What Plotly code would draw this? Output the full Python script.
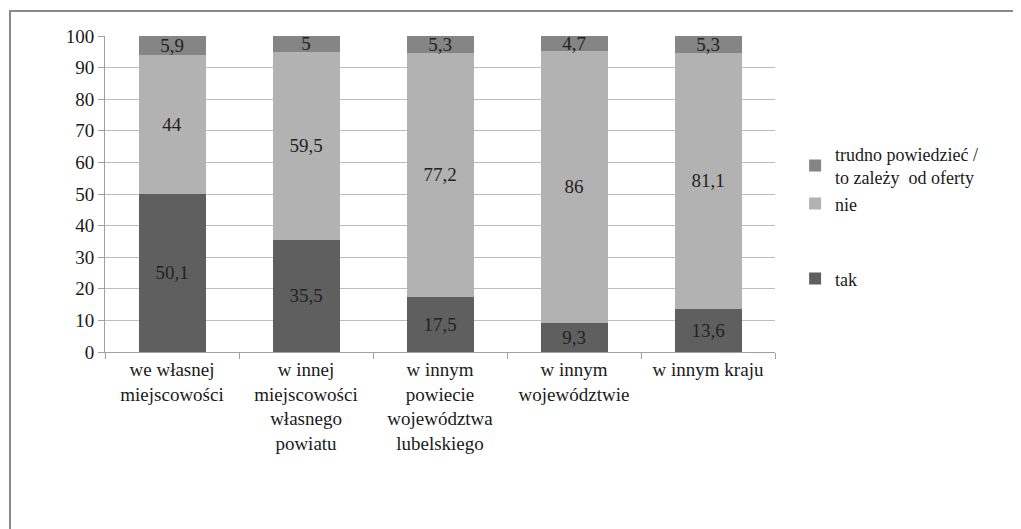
import plotly.graph_objects as go

categories = [
    'we własnej<br>miejscowości',
    'w innej<br>miejscowości<br>własnego<br>powiatu',
    'w innym<br>powiecie<br>województwa<br>lubelskiego',
    'w innym<br>województwie',
    'w innym kraju',
]
tak = [50.1, 35.5, 17.5, 9.3, 13.6]
nie = [44, 59.5, 77.2, 86, 81.1]
trudno = [5.9, 5, 5.3, 4.7, 5.3]

series = [
    ('tak', tak, '#5f5f5f', 'legend2'),
    ('nie', nie, '#b2b2b2', 'legend'),
    ('trudno powiedzieć /<br>to zależy  od oferty', trudno, '#858585', 'legend'),
]

FONT = 'Times New Roman, Liberation Serif, serif'

fig = go.Figure()
for name, values, color, leg in series:
    fig.add_trace(go.Bar(
        x=categories,
        y=values,
        name=name,
        legend=leg,
        marker=dict(color=color, line=dict(width=0)),
        texttemplate='%{y}',
        textposition='inside',
        insidetextanchor='middle',
        textangle=0,
        textfont=dict(family=FONT, size=19, color='#222222'),
        cliponaxis=False,
    ))

legend_style = dict(
    xanchor='left', yanchor='top', traceorder='reversed',
    font=dict(family=FONT, size=18, color='#1a1a1a'),
    itemwidth=30, bgcolor='rgba(0,0,0,0)',
)

fig.update_layout(
    barmode='stack',
    bargap=0.5,
    width=1021,
    height=529,
    margin=dict(l=97, r=254, t=28, b=185),
    paper_bgcolor='white',
    plot_bgcolor='white',
    separators=', ',
    uniformtext=dict(minsize=19, mode='show'),
    font=dict(family=FONT, size=19, color='#1a1a1a'),
    legend=dict(x=1.03, y=0.685, tracegroupgap=0, **legend_style),
    legend2=dict(x=1.03, y=0.29, **legend_style),
    showlegend=True,
)

fig.update_yaxes(
    range=[0, 100], dtick=10, automargin=False,
    showgrid=True, gridcolor='#bdbdbd', gridwidth=1,
    showline=True, linecolor='#a0a0a0', linewidth=1,
    ticks='outside', ticklen=6, tickcolor='#a0a0a0',
    tickfont=dict(family=FONT, size=19, color='#1a1a1a'),
    zeroline=False,
)
fig.update_xaxes(
    automargin=False,
    showline=True, linecolor='#a0a0a0', linewidth=1,
    ticks='outside', tickson='boundaries', ticklen=6, tickcolor='#a0a0a0',
    tickfont=dict(family=FONT, size=19, color='#1a1a1a'),
    tickangle=0,
)

# outer chart frame
fig.add_shape(
    type='rect', xref='paper', yref='paper',
    x0=-0.1418, x1=1.38, y0=-0.6, y1=1.079,
    line=dict(color='#8a8a8a', width=2), layer='below',
)

fig.write_html('out.html')
